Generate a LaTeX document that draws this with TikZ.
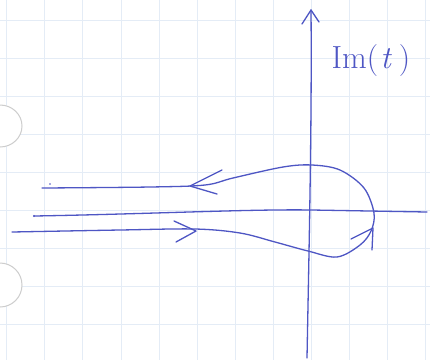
\documentclass[tikz,border=0pt]{standalone}
\begin{document}
\begin{tikzpicture}[x=1pt,y=-1pt,
  pen/.style={draw=penblue, line width=1.3pt, line cap=round, line join=round},
  gridline/.style={draw=gridblue, line width=0.6pt},
  hole/.style={draw=holegray, line width=1pt}]
\definecolor{penblue}{RGB}{78,86,196}
\definecolor{gridblue}{RGB}{228,236,246}
\definecolor{holegray}{RGB}{205,205,205}
\useasboundingbox (0,0) rectangle (430,360);
\fill[white] (0,0) rectangle (430,360);
% graph paper
\foreach \gx in {6.7,44.7,82.7,121,159,197,235,273,311,349,387,425}
  \draw[gridline] (\gx,0) -- (\gx,360);
\foreach \gy in {20.7,58.7,96.7,134.7,172.7,210.7,248.7,286.7,324.7}
  \draw[gridline] (0,\gy) -- (430,\gy);
% punched holes
\fill[white, hole] (0,147) arc (90:-90:22 and 21);
\fill[white, hole] (0,307) arc (90:-90:22 and 22);
% axes
\coordinate (ybot) at (307,358);
\coordinate (ytop) at (311,10);
\coordinate (xl) at (34,216);
\coordinate (xr) at (427,212);
\draw[pen] (ybot) .. controls (309,250) and (312,120) .. (ytop);
\draw[pen] (302,24) -- (ytop) -- (319,22);
\draw[pen] (xl) .. controls (150,214) and (250,209) .. (312,210) -- (xr);
% contour
\draw[pen] plot[smooth, tension=0.55] coordinates {
  (12,232) (120,230) (195,229) (240,233) (275,242) (308,251) (337,257)
  (360,245) (371,231) (374,213) (364,188) (340,170) (312,165)
  (283,167) (233,178) (205,185) (150,187) (42,188)};
% arrows on contour
\coordinate (a1) at (190,186);
\draw[pen] (222,170) -- (a1) -- (217,194);
\coordinate (a2) at (196,231);
\draw[pen] (174,221) -- (a2) -- (176,242);
\coordinate (a3) at (373,228);
\draw[pen] (351,239) -- (a3) -- (372,250);
% small dots
\fill[penblue] (50,184) circle (0.9);
\fill[penblue] (34,216) circle (1.1);
% label
\node[text=penblue, font=\fontsize{32}{34}\selectfont, anchor=center, inner sep=0pt] (lbl) at (371,61) {Im(\kern2pt\textit{t}\kern7pt)};
\end{tikzpicture}
\end{document}
